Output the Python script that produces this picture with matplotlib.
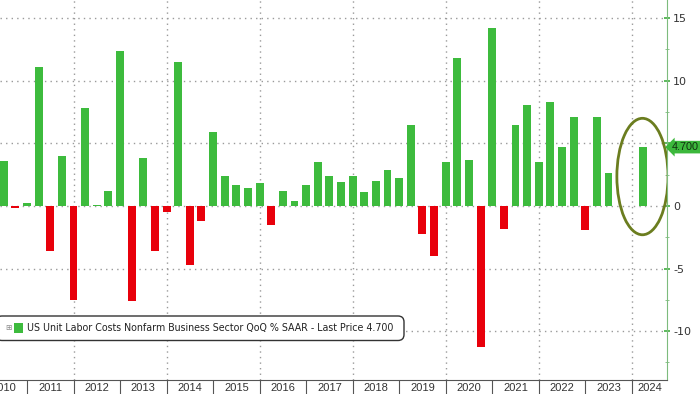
import numpy as np
import matplotlib
matplotlib.use("Agg")
import matplotlib.pyplot as plt
from matplotlib.patches import Ellipse, FancyBboxPatch, Rectangle

# quarterly values, 2010Q2 .. 2024Q1 (QoQ % SAAR)
values = [
    3.6, -0.2, 0.2,
    11.1, -3.6, 4.0, -7.5,
    7.8, 0.05, 1.2, 12.4,
    -7.6, 3.8, -3.6, -0.5,
    11.5, -4.7, -1.2, 5.9,
    2.4, 1.7, 1.4, 1.8,
    -1.5, 1.2, 0.4, 1.7,
    3.5, 2.4, 1.9, 2.4,
    1.1, 2.0, 2.9, 2.2,
    6.5, -2.2, -4.0, 3.5,
    11.8, 3.7, -11.3, 14.2,
    -1.8, 6.5, 8.1, 3.5,
    8.3, 4.7, 7.1, -1.9,
    7.1, 2.6, 0.0, 0.0,
    4.7,
]
first_quarter = 1          # 2010Q2, counted from 2010Q1 = 0
years = list(range(2010, 2025))
last_price = 4.700
legend_label = "US Unit Labor Costs Nonfarm Business Sector QoQ % SAAR - Last Price 4.700"

GREEN = "#3dbb3d"
RED = "#e8000b"
GRID = "#9a9a9a"

vals = np.array(values)
# bloomberg puts each bar at the quarter end date
xpos = np.arange(len(vals)) + first_quarter + 1
colors = [GREEN if v >= 0 else RED for v in vals]

fig = plt.figure(figsize=(7.0, 3.94), dpi=100)
ax = fig.add_axes([0.0, 14 / 394, 667 / 700, 380 / 394])

xmin, xmax = 1.68, 59.03

# grid: horizontal every 5, vertical every two years
for y in [-10, -5, 0, 5, 10, 15]:
    ax.axhline(y, color=GRID, lw=1, ls=(0, (1, 3)), zorder=0)
for yr in range(2012, 2025, 2):
    ax.axvline(4 * (yr - 2010), color=GRID, lw=1, ls=(0, (1, 3)), zorder=0)

ax.bar(xpos, vals, width=0.68, color=colors, zorder=2)

# circle round the latest print
ax.add_patch(Ellipse((56.92, 2.35), 4.4, 9.3, fill=False,
                     edgecolor="#6b7d1f", lw=2.0, zorder=3))

# axes styling
for s in ["top", "left"]:
    ax.spines[s].set_visible(False)
ax.spines["right"].set_color("#7dbb7d")
ax.spines["bottom"].set_color("#555555")

ax.yaxis.tick_right()
ax.set_yticks([-10, -5, 0, 5, 10, 15])
# the "5" label sits under the last price tag
ax.set_yticklabels(["-10", "-5", "0", "", "10", "15"])
ax.set_yticks([-12.5, -7.5, -2.5, 2.5, 7.5, 12.5], minor=True)
ax.tick_params(axis="y", which="major", direction="inout", length=5, width=1.2,
               color="#3fae3f", labelsize=8, labelcolor="#333333", pad=2)
ax.tick_params(axis="y", which="minor", direction="inout", length=3,
               color="#7dbb7d")

# year boundaries as ticks, year names in between
bounds = [4 * (yr - 2010) for yr in years] + [4 * (years[-1] + 1 - 2010)]
ax.set_xticks(bounds)
ax.set_xticklabels([])
mids = [min(4 * (yr - 2010) + 2, (4 * (yr - 2010) + xmax) / 2) for yr in years]
ax.set_xticks(mids, minor=True)
ax.set_xticklabels([str(y) for y in years], minor=True, family="Liberation Sans")
ax.tick_params(axis="x", which="major", direction="out", length=10, color="#555555")
ax.tick_params(axis="x", which="minor", length=0, labelsize=8, labelcolor="#333333", pad=2)

# limits last, set_xticks widens the view otherwise
ax.set_xlim(xmin, xmax)
ax.set_ylim(-13.9, 16.45)

# last price tag on the right axis
ax.annotate(f"{last_price:.3f}", xy=(1.0, last_price), xycoords=("axes fraction", "data"),
            xytext=(3.5, 0), textcoords="offset points", va="center", ha="left",
            fontsize=7.8, family="Liberation Sans", color="#10300f", annotation_clip=False,
            bbox=dict(boxstyle="larrow,pad=0.12", fc="#3cb83c", ec="none"))

# legend box at the bottom left, drawn by hand (positions in inches)
tr = fig.dpi_scale_trans
fig.patches.append(FancyBboxPatch((-0.04, 0.535), 4.08, 0.245,
                                  boxstyle="round,pad=0,rounding_size=0.06",
                                  fc="white", ec="#333333", lw=1.0, transform=tr))
fig.patches.append(Rectangle((0.14, 0.615), 0.09, 0.095, fc=GREEN, ec="none", transform=tr))
fig.text(0.085, 0.662, "\u229e", fontsize=5.5, color="#8a8a8a",
         va="center", ha="center", transform=tr)
fig.text(0.27, 0.66, legend_label, fontsize=6.85, color="#222222",
         va="center", ha="left", transform=tr)

fig.savefig("out.png", dpi=100)
